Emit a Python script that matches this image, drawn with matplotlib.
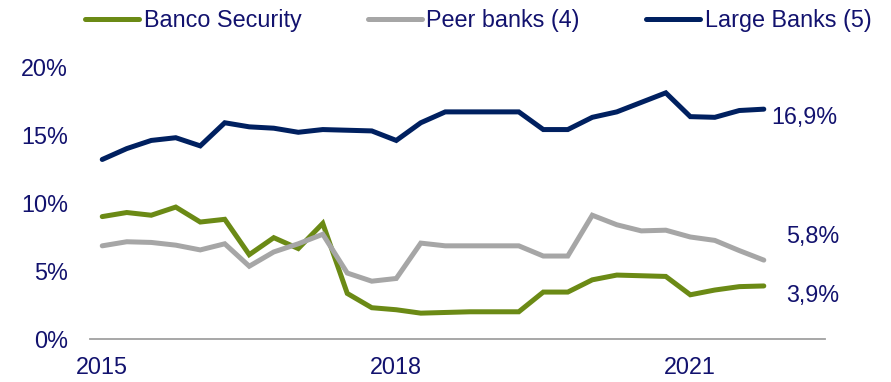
import matplotlib
matplotlib.use("Agg")
import matplotlib.pyplot as plt

# quarterly series, 2015Q1 .. 2021Q4 (values in %)
quarters = [f"{y}Q{q}" for y in range(2015, 2022) for q in range(1, 5)]
security = [9.0, 9.3, 9.1, 9.7, 8.6, 8.8, 6.2, 7.45, 6.65, 8.5,
            3.35, 2.3, 2.15, 1.9, 1.95, 2.0, 2.0, 2.0, 3.45, 3.45,
            4.35, 4.7, 4.65, 4.6, 3.25, 3.6, 3.85, 3.9]
peer = [6.85, 7.15, 7.1, 6.9, 6.55, 7.0, 5.35, 6.4, 7.0, 7.7,
        4.85, 4.25, 4.45, 7.05, 6.85, 6.85, 6.85, 6.85, 6.1, 6.1,
        9.1, 8.4, 7.95, 8.0, 7.5, 7.25, 6.5, 5.8]
large = [13.2, 14.0, 14.6, 14.8, 14.2, 15.9, 15.6, 15.5, 15.2, 15.4,
         15.35, 15.3, 14.6, 15.9, 16.7, 16.7, 16.7, 16.7, 15.4, 15.4,
         16.3, 16.7, 17.4, 18.1, 16.35, 16.3, 16.8, 16.9]
year_ticks = {"2015": "2015Q1", "2018": "2018Q1", "2021": "2021Q1"}
yticks = [0, 5, 10, 15, 20]
end_labels = ["3,9%", "5,8%", "16,9%"]

TXT = "#12126E"
plt.rcParams["font.family"] = ["Liberation Sans", "DejaVu Sans"]

fig = plt.figure(figsize=(8.91, 3.82), dpi=100)
ax = fig.add_axes([0.101, 0.1126, 0.825, 0.712])

x = list(range(len(quarters)))
series = [("Banco Security", security, "#6B8A15"),
          ("Peer banks (4)", peer, "#A6A6A6"),
          ("Large Banks (5)", large, "#002060")]
for name, vals, col in series:
    ax.plot(x, vals, color=col, lw=3.6, solid_capstyle="round",
            solid_joinstyle="miter", label=name)

# end-of-series value labels (offsets in points)
offsets = [(16, -7), (16, 17), (5, -6)]
for (name, vals, col), lab, off in zip(series, end_labels, offsets):
    ax.annotate(lab, xy=(x[-1], vals[-1]), xytext=off,
                textcoords="offset points", ha="left", va="center",
                fontsize=16.8, color=TXT)

ax.set_xlim(-0.5, 29.5)
ax.set_ylim(0, 20)
ax.set_yticks(yticks)
ax.set_yticklabels([f"{v}%" for v in yticks])
ax.set_xticks([quarters.index(q) for q in year_ticks.values()])
ax.set_xticklabels(list(year_ticks.keys()))
ax.tick_params(axis="both", length=0, labelsize=16.8, labelcolor=TXT)
ax.tick_params(axis="y", pad=16)
ax.tick_params(axis="x", pad=12)
for s in ["top", "right", "left"]:
    ax.spines[s].set_visible(False)
ax.spines["bottom"].set_color("#A0A0A0")
ax.spines["bottom"].set_linewidth(1.3)

leg = fig.legend(loc="center", bbox_to_anchor=(0.537, 1 - 21 / 382), ncol=3,
                 frameon=False, fontsize=16.8, handlelength=2.3,
                 handletextpad=0.2, columnspacing=2.85, borderpad=0)
for t in leg.get_texts():
    t.set_color(TXT)

fig.savefig("out.png", dpi=100)
